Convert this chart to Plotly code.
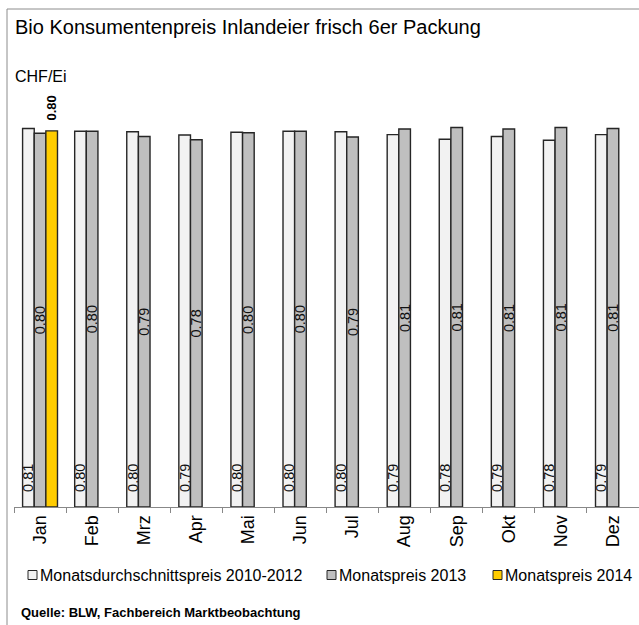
import plotly.graph_objects as go

months = ["Jan", "Feb", "Mrz", "Apr", "Mai", "Jun", "Jul", "Aug", "Sep", "Okt", "Nov", "Dez"]
avg_2010_2012 = [0.807, 0.801, 0.800, 0.793, 0.799, 0.801, 0.800, 0.794, 0.784, 0.790, 0.782, 0.794]
price_2013 = [0.797, 0.801, 0.790, 0.783, 0.798, 0.801, 0.789, 0.806, 0.809, 0.806, 0.809, 0.807]
price_2014 = [0.802, None, None, None, None, None, None, None, None, None, None, None]

names = ["Monatsdurchschnittspreis 2010-2012", "Monatspreis 2013", "Monatspreis 2014"]
colors = ["#F2F2F2", "#BFBFBF", "#FFCC00"]

W, H = 639, 625
L, R, T, B = 14, 0, 108, 118
PW, PH = W - L - R, H - T - B
YMAX = 0.8507
FONT = "Liberation Sans, Arial, sans-serif"
NB = "\u00a0"


def px(x):
    return (x - L) / PW


def py(y):
    return (H - B - y) / PH


outline = dict(color="#262626", width=1.4)
lblfont = dict(family=FONT, size=14.5, color="#111111")

fig = go.Figure()
fig.add_bar(
    x=months, y=avg_2010_2012, name=names[0],
    marker=dict(color=colors[0], line=outline),
    texttemplate=NB * 3 + "%{y:.2f}", textposition="inside", insidetextanchor="start",
    textangle=-90, constraintext="none",
    textfont=lblfont, insidetextfont=lblfont, hoverinfo="skip",
)
fig.add_bar(
    x=months, y=price_2013, name=names[1],
    marker=dict(color=colors[1], line=outline),
    texttemplate="%{y:.2f}", textposition="inside", insidetextanchor="middle",
    textangle=-90, constraintext="none",
    textfont=lblfont, insidetextfont=lblfont, hoverinfo="skip",
)
boldfont = dict(family=FONT, size=13, color="#000000")
fig.add_bar(
    x=months, y=price_2014, name=names[2],
    marker=dict(color=colors[2], line=outline),
    texttemplate=NB * 2 + "<b>%{y:.2f}</b>", textposition="outside",
    textangle=-90, constraintext="none", cliponaxis=False,
    textfont=boldfont, outsidetextfont=boldfont, hoverinfo="skip",
)

annotations = [
    dict(text="Bio Konsumentenpreis Inlandeier frisch 6er Packung",
         x=px(13), y=py(27), xref="paper", yref="paper",
         xanchor="left", yanchor="middle", showarrow=False,
         font=dict(family=FONT, size=20)),
    dict(text="CHF/Ei", x=px(13), y=py(77), xref="paper", yref="paper",
         xanchor="left", yanchor="middle", showarrow=False,
         font=dict(family=FONT, size=16)),
    dict(text="<b>Quelle: BLW, Fachbereich Marktbeobachtung</b>",
         x=px(19), y=py(612), xref="paper", yref="paper",
         xanchor="left", yanchor="middle", showarrow=False,
         font=dict(family=FONT, size=13)),
]
shapes = [
    dict(type="line", xref="paper", yref="paper",
         x0=px(7), x1=px(7), y0=py(9), y1=py(640),
         line=dict(color="#8c8c8c", width=1)),
    dict(type="line", xref="paper", yref="paper",
         x0=px(7), x1=px(650), y0=py(9), y1=py(9),
         line=dict(color="#8c8c8c", width=1)),
]

# manual legend (square marker + text), positions in pixels
legend_x = [28, 327, 493]
legend_yc = 575
for lx, nm, col in zip(legend_x, names, colors):
    shapes.append(dict(type="rect", xref="paper", yref="paper",
                       x0=px(lx), x1=px(lx + 9), y0=py(legend_yc - 4.5), y1=py(legend_yc + 4.5),
                       fillcolor=col, line=dict(color="#262626", width=1)))
    annotations.append(dict(text=nm, x=px(lx + 10), y=py(legend_yc), xref="paper", yref="paper",
                            xanchor="left", yanchor="middle", showarrow=False,
                            font=dict(family=FONT, size=16)))

fig.update_layout(
    width=W, height=H,
    margin=dict(l=L, r=R, t=T, b=B, pad=0),
    paper_bgcolor="white", plot_bgcolor="white",
    barmode="group", bargap=0.33, bargroupgap=0,
    font=dict(family=FONT, color="#000000"),
    showlegend=False, hovermode=False,
    xaxis=dict(
        type="category", tickson="boundaries", ticks="outside", ticklen=5,
        tickcolor="#888888", showline=True, linecolor="#888888", linewidth=1,
        tickangle=-90, tickfont=dict(family=FONT, size=18), showgrid=False,
        range=[-0.5, 11.5],
    ),
    yaxis=dict(visible=False, range=[0, YMAX], showgrid=False),
    annotations=annotations,
    shapes=shapes,
)

fig.write_html("out.html", config={"displayModeBar": False},
               post_script="document.body.style.margin='0px';")
